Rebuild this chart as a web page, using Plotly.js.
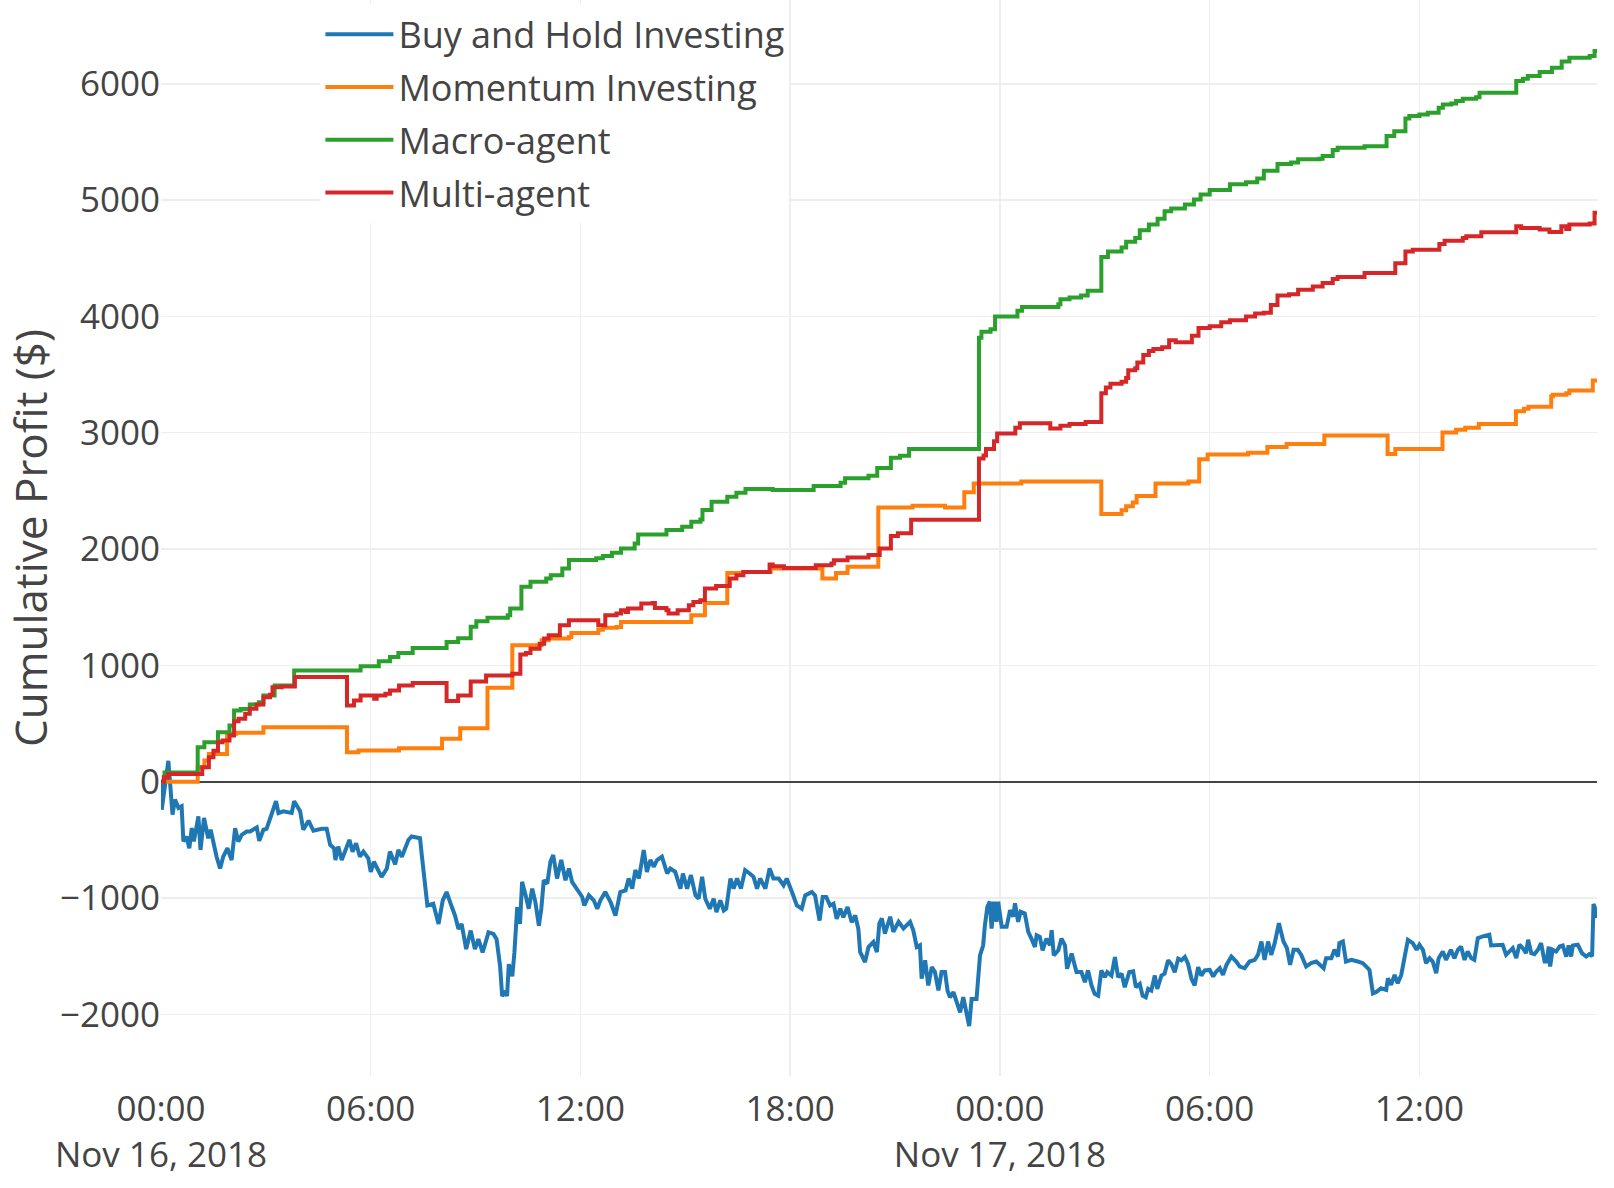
<!DOCTYPE html>
<html>
<head>
<meta charset="utf-8">
<script src="https://cdn.plot.ly/plotly-3.0.1.min.js"></script>
<style>html,body{margin:0;padding:0;background:#fff;}#chart{width:1614px;height:1188px;}</style>
</head>
<body>
<div id="chart"></div>
<script>
// Hours since Nov 16, 2018 00:00 and cumulative profit ($)
const startDay = "2018-11-16";
const seriesNames = ["Buy and Hold Investing", "Momentum Investing", "Macro-agent", "Multi-agent"];
const seriesColors = ["#1f77b4", "#ff7f0e", "#2ca02c", "#d62728"];

const buyHold = [
[0,-10],[0.02,-240],[0.21,179],[0.33,-283],[0.40,-153],[0.50,-225],[0.59,-211],[0.64,-514],[0.73,-471],[0.81,-572],
[0.88,-399],[0.94,-514],[1.07,-298],[1.13,-587],[1.23,-312],[1.35,-486],[1.42,-413],[1.50,-543],[1.59,-645],[1.69,-746],
[1.78,-645],[1.90,-572],[2.02,-673],[2.12,-399],[2.21,-514],[2.31,-457],[2.45,-428],[2.55,-428],[2.74,-393],[2.81,-509],
[2.93,-413],[3.02,-405],[3.10,-327],[3.29,-168],[3.36,-269],[3.50,-254],[3.74,-269],[3.81,-168],[3.98,-254],[4.07,-413],
[4.22,-335],[4.36,-422],[4.60,-405],[4.74,-405],[4.84,-543],[4.95,-572],[4.99,-673],[5.07,-558],[5.17,-673],[5.39,-500],
[5.48,-601],[5.58,-529],[5.69,-645],[5.79,-601],[5.93,-659],[6.00,-775],[6.09,-688],[6.19,-746],[6.31,-818],[6.46,-746],
[6.55,-601],[6.70,-711],[6.79,-587],[6.89,-645],[7.08,-500],[7.17,-471],[7.41,-486],[7.46,-630],[7.55,-876],[7.62,-1064],
[7.79,-1049],[7.94,-1223],[8.06,-1020],[8.17,-948],[8.27,-1035],[8.41,-1150],[8.51,-1266],[8.60,-1223],[8.73,-1439],[8.86,-1280],
[8.98,-1439],[9.08,-1353],[9.20,-1468],[9.37,-1295],[9.51,-1309],[9.60,-1353],[9.70,-1584],
[9.76,-1844],[9.86,-1800],[9.90,-1844],[9.95,-1569],[10.05,-1673],[10.11,-1468],[10.19,-1078],[10.27,-1223],[10.33,-861],[10.43,-977],
[10.52,-1092],[10.62,-919],[10.71,-1035],[10.81,-1237],[10.88,-1092],[10.95,-847],[11.05,-876],[11.14,-688],[11.22,-630],[11.33,-832],
[11.45,-673],[11.57,-847],[11.67,-746],[11.76,-861],[11.90,-919],[12.05,-991],[12.11,-1064],[12.24,-977],[12.38,-1020],[12.48,-1092],
[12.57,-1020],[12.71,-948],[12.86,-1035],[13.00,-1150],[13.14,-948],[13.29,-934],[13.38,-832],[13.48,-919],[13.57,-760],[13.67,-832],
[13.81,-587],[13.90,-775],[14.00,-673],[14.10,-731],[14.19,-673],[14.33,-645],[14.48,-789],[14.57,-746],[14.71,-775],[14.86,-919],
[14.93,-789],[15.05,-919],[15.16,-803],[15.29,-977],[15.38,-1006],[15.48,-818],[15.57,-1006],[15.70,-1092],[15.81,-1006],[15.89,-1121],
[16.00,-1020],[16.10,-1107],[16.17,-1092],[16.29,-832],[16.38,-919],[16.48,-832],[16.59,-919],[16.71,-760],[16.84,-789],[16.95,-818],
[17.05,-919],[17.14,-832],[17.29,-919],[17.41,-746],[17.52,-832],[17.67,-832],[17.81,-890],[17.90,-832],[18.05,-948],[18.19,-1064],
[18.33,-1092],[18.43,-977],[18.62,-948],[18.71,-977],[18.84,-1194],[18.93,-991],[19.03,-991],[19.14,-1064],[19.24,-1049],[19.33,-1179],
[19.43,-1092],[19.52,-1165],[19.64,-1078],[19.76,-1208],[19.86,-1150],[19.95,-1266],
[20.00,-1464],[20.14,-1550],[20.24,-1421],[20.38,-1378],[20.48,-1464],[20.55,-1219],[20.62,-1176],[20.71,-1305],[20.86,-1161],[20.95,-1291],
[21.10,-1205],[21.24,-1262],[21.43,-1205],[21.52,-1277],[21.62,-1421],[21.71,-1406],[21.76,-1694],[21.86,-1536],[21.95,-1752],[22.05,-1594],
[22.14,-1637],[22.24,-1795],[22.33,-1637],[22.43,-1637],[22.50,-1795],[22.57,-1853],[22.67,-1810],[22.76,-1882],[22.86,-1983],[22.95,-1853],
[23.05,-1983],[23.12,-2100],[23.19,-1867],[23.33,-1867],[23.43,-1493],[23.52,-1406],[23.57,-1233],[23.64,-1075],[23.71,-1032],[23.76,-1262],
[23.83,-1032],[23.90,-1205],[23.95,-1032],[24.05,-1248],[24.19,-1248],[24.29,-1104],[24.38,-1161],[24.43,-1046],[24.52,-1205],[24.59,-1118],
[24.71,-1133],[24.81,-1291],[24.90,-1349],[25.00,-1421],[25.05,-1320],[25.14,-1334],[25.22,-1450],[25.33,-1349],[25.43,-1406],[25.48,-1277],
[25.54,-1493],[25.67,-1450],[25.76,-1349],[25.86,-1406],[25.92,-1608],[26.05,-1478],[26.19,-1637],[26.33,-1637],[26.43,-1723],[26.52,-1622],
[26.62,-1752],[26.71,-1824],[26.81,-1839],[26.90,-1622],[27.00,-1680],[27.07,-1637],[27.19,-1666],[27.29,-1507],[27.38,-1680],[27.48,-1651],
[27.57,-1767],[27.70,-1637],[27.81,-1631],[27.89,-1767],[28.00,-1738],[28.08,-1839],[28.17,-1853],[28.24,-1781],[28.33,-1795],[28.43,-1666],
[28.50,-1781],[28.62,-1666],[28.71,-1651],[28.81,-1536],[28.90,-1565],[29.00,-1637],[29.10,-1522],[29.19,-1536],[29.29,-1507],[29.38,-1565],
[29.48,-1694],[29.57,-1752],[29.67,-1594],[29.76,-1666],[29.86,-1622],[30.00,-1618],
[30.10,-1675],[30.19,-1632],[30.29,-1603],[30.38,-1661],[30.48,-1575],[30.62,-1503],[30.76,-1546],[30.86,-1589],[31.00,-1603],[31.14,-1546],
[31.29,-1532],[31.38,-1489],[31.48,-1374],[31.57,-1532],[31.67,-1374],[31.76,-1489],[31.86,-1388],[31.98,-1216],[32.11,-1374],[32.21,-1431],
[32.30,-1575],[32.40,-1445],[32.52,-1445],[32.62,-1489],[32.76,-1589],[32.90,-1560],[33.05,-1546],[33.14,-1575],[33.26,-1603],[33.33,-1517],
[33.48,-1517],[33.57,-1445],[33.67,-1503],[33.71,-1388],[33.81,-1374],[33.90,-1546],[34.05,-1532],[34.24,-1546],[34.38,-1560],[34.48,-1589],
[34.57,-1618],[34.67,-1819],[34.78,-1805],[34.90,-1776],[35.05,-1790],[35.10,-1690],[35.19,-1747],[35.29,-1661],[35.38,-1733],[35.48,-1661],
[35.57,-1532],[35.67,-1359],[35.81,-1388],[35.92,-1445],[36.00,-1402],[36.10,-1445],[36.19,-1560],[36.29,-1517],[36.38,-1546],[36.48,-1647],
[36.55,-1517],[36.67,-1460],[36.76,-1532],[36.90,-1445],[37.00,-1517],[37.10,-1445],[37.19,-1417],[37.29,-1532],[37.38,-1460],[37.48,-1517],
[37.57,-1532],[37.67,-1345],[37.81,-1330],[38.00,-1316],[38.05,-1408],[38.19,-1408],[38.38,-1402],
[38.48,-1489],[38.67,-1431],[38.77,-1517],[38.86,-1402],[38.96,-1431],[39.05,-1474],[39.11,-1359],[39.20,-1474],[39.29,-1483],[39.39,-1445],
[39.48,-1388],[39.58,-1546],[39.64,-1546],[39.70,-1417],[39.74,-1589],[39.81,-1445],[39.91,-1460],[40.01,-1417],[40.10,-1408],[40.20,-1503],
[40.27,-1408],[40.34,-1503],[40.39,-1408],[40.53,-1402],[40.65,-1474],[40.77,-1503],[40.86,-1483],[40.94,-1500],[40.98,-1052],[41.04,-1100],[41.08,-1172]
];

const momentum = [
[0,0],[1.05,124],[1.24,182],[1.37,239],[1.89,412],[2.15,421],[2.93,469],[5.32,254],[5.65,268],[6.81,288],
[8.04,369],[8.56,460],[9.34,808],[10.05,1172],[10.89,1215],[11.09,1230],[11.67,1244],[11.74,1278],[12.51,1307],[12.64,1324],
[13.03,1330],[13.16,1373],[15.17,1430],[15.56,1537],[16.20,1795],[16.66,1803],[17.44,1832],[18.92,1746],[19.31,1795],[19.64,1847],
[20.52,2357],[21.50,2373],[22.43,2357],[22.98,2489],[23.25,2564],[24.61,2581],[26.90,2301],[27.48,2334],[27.61,2367],[27.80,2400],
[27.91,2456],[28.45,2564],[29.39,2581],[29.70,2772],[29.94,2812],[31.10,2828],[31.65,2878],[32.20,2904],[33.28,2977],[35.09,2818],
[35.31,2861],[36.66,3003],[37.05,3026],[37.31,3042],[37.70,3075],[38.76,3184],[38.99,3207],[39.12,3224],[39.77,3313],[39.82,3326],
[40.20,3340],[40.29,3363],[40.96,3449],[41.08,3449]
];

const macroAgent = [
[0,0],[0.1,80],[1.05,296],[1.24,340],[1.63,425],[1.96,483],[2.09,613],[2.28,625],[2.54,663],[2.80,683],
[2.93,740],[3.25,827],[3.81,957],[5.71,993],[6.23,1035],[6.55,1073],[6.79,1107],[7.20,1150],[8.17,1202],[8.50,1234],
[8.86,1331],[9.02,1380],[9.34,1410],[9.92,1430],[9.99,1490],[10.31,1675],[10.57,1718],[11.02,1747],[11.15,1775],[11.48,1833],
[11.67,1905],[12.45,1920],[12.64,1940],[12.90,1968],[13.16,2005],[13.55,2048],[13.65,2125],[14.46,2163],[14.91,2192],[15.17,2235],
[15.43,2255],[15.49,2335],[15.75,2407],[16.20,2450],[16.46,2485],[16.72,2516],[17.50,2507],[18.67,2542],[19.44,2570],[19.57,2608],
[20.24,2630],[20.49,2696],[20.88,2785],[21.14,2802],[21.40,2861],[23.40,3817],[23.47,3867],[23.73,3890],[23.86,3999],[24.50,4048],
[24.63,4081],[25.67,4104],[25.73,4147],[25.99,4163],[26.32,4180],[26.51,4220],[26.90,4510],[27.09,4559],[27.48,4592],[27.61,4642],
[27.87,4675],[28.00,4741],[28.26,4790],[28.51,4839],[28.71,4905],[28.90,4928],[29.29,4961],[29.55,5004],[29.74,5047],[30.00,5087],
[30.58,5136],[31.04,5153],[31.36,5186],[31.55,5252],[31.94,5311],[32.33,5324],[32.53,5350],[33.14,5356],[33.23,5378],[33.52,5430],
[33.66,5450],[34.43,5463],[35.06,5550],[35.28,5592],[35.60,5702],[35.71,5722],[36.00,5736],[36.24,5751],[36.55,5793],[36.67,5822],
[36.91,5831],[37.05,5851],[37.24,5871],[37.62,5885],[37.72,5923],[38.77,6023],[38.96,6043],[39.10,6066],[39.44,6100],[39.79,6138],
[40.07,6192],[40.29,6224],[40.87,6238],[41.01,6281],[41.08,6290]
];

const multiAgent = [
[0,0],[0.08,39],[0.2,67],[1.18,124],[1.37,210],[1.50,267],[1.63,340],[1.76,354],[1.96,397],[2.09,520],
[2.22,541],[2.41,584],[2.54,627],[2.73,664],[2.93,727],[3.12,747],[3.19,813],[3.45,819],[3.83,900],[5.32,656],
[5.52,699],[5.71,742],[6.10,713],[6.17,742],[6.42,756],[6.55,785],[6.81,828],[7.20,848],[8.17,693],[8.50,742],
[8.86,862],[9.30,914],[10.05,928],[10.28,1094],[10.44,1106],[10.57,1143],[10.83,1186],[10.96,1230],[11.09,1258],[11.41,1344],
[11.67,1387],[12.51,1344],[12.71,1430],[13.03,1445],[13.16,1473],[13.29,1459],[13.36,1488],[13.74,1531],[14.07,1537],[14.13,1494],
[14.46,1473],[14.52,1445],[14.78,1473],[15.10,1517],[15.23,1545],[15.43,1560],[15.56,1660],[15.88,1683],[16.27,1746],[16.46,1775],
[16.66,1803],[17.41,1867],[17.50,1852],[17.82,1838],[18.73,1861],[19.18,1875],[19.25,1904],[19.64,1927],[20.24,1948],[20.56,2004],
[20.88,2113],[21.08,2136],[21.46,2251],[23.40,2779],[23.53,2805],[23.60,2861],[23.83,2927],[23.92,2993],[24.44,3042],[24.57,3082],
[25.44,3036],[25.73,3059],[25.99,3075],[26.45,3092],[26.90,3339],[27.03,3389],[27.16,3422],[27.48,3438],[27.61,3471],[27.67,3537],
[27.87,3554],[27.93,3603],[28.10,3669],[28.26,3702],[28.39,3719],[28.64,3735],[28.84,3794],[29.03,3778],[29.49,3834],[29.68,3900],
[30.00,3916],[30.33,3949],[30.58,3966],[31.04,3999],[31.30,4025],[31.55,4032],[31.75,4098],[31.94,4180],[32.27,4190],[32.53,4229],
[32.95,4258],[33.23,4287],[33.52,4321],[33.66,4338],[34.43,4373],[35.31,4458],[35.60,4559],[35.81,4573],[36.57,4622],[36.72,4651],
[37.24,4674],[37.34,4688],[37.77,4724],[38.77,4775],[38.91,4760],[39.44,4746],[39.72,4726],[40.06,4775],[40.20,4752],[40.29,4790],
[40.87,4799],[41.01,4890],[41.08,4900]
];

const yTickVals = [-2000, -1000, 0, 1000, 2000, 3000, 4000, 5000, 6000];

function toDate(h) {
  const base = Date.UTC(2018, 10, 16);
  const d = new Date(base + Math.round(h * 3600000));
  return d.toISOString().slice(0, 19).replace('T', ' ');
}

const allSeries = [buyHold, momentum, macroAgent, multiAgent];
const shapes = ['linear', 'hv', 'hv', 'hv'];
const traces = allSeries.map((s, i) => ({
  type: 'scatter',
  mode: 'lines',
  name: seriesNames[i],
  legendgroup: 'g' + i,
  x: s.map(p => toDate(p[0])),
  y: s.map(p => p[1]),
  line: {color: seriesColors[i], width: 4, shape: shapes[i]}
}));

const endTime = toDate(buyHold[buyHold.length - 1][0]);

const layout = {
  width: 1614,
  height: 1188,
  margin: {l: 161, r: 17, t: 0, b: 112, pad: 0},
  paper_bgcolor: '#fff',
  plot_bgcolor: '#fff',
  font: {family: '"Open Sans", sans-serif', size: 35, color: '#444'},
  showlegend: true,
  legend: {
    x: 0.111, y: 0.996, xanchor: 'left', yanchor: 'top',
    bgcolor: '#fff',
    itemwidth: 68,
    traceorder: 'grouped',
    tracegroupgap: 3,
    font: {size: 36, color: '#444'}
  },
  xaxis: {
    type: 'date',
    range: [startDay + ' 00:00:00', endTime],
    dtick: 6 * 3600000,
    tick0: startDay + ' 00:00:00',
    showgrid: true,
    gridcolor: '#eee',
    gridwidth: 1.5,
    zeroline: false,
    showline: false,
    ticks: '',
    ticklabelstandoff: 9,
    tickfont: {size: 35, color: '#444'}
  },
  yaxis: {
    range: [-2530, 6720],
    tickvals: yTickVals,
    showgrid: true,
    gridcolor: '#eee',
    gridwidth: 1.5,
    zeroline: true,
    zerolinecolor: '#444',
    zerolinewidth: 2,
    showline: false,
    ticks: '',
    tickfont: {size: 35, color: '#444'},
    title: {text: 'Cumulative Profit ($)', font: {size: 44, color: '#444'}, standoff: 24},
    automargin: true
  }
};

Plotly.newPlot('chart', traces, layout, {displayModeBar: false, staticPlot: true});
</script>
</body>
</html>
